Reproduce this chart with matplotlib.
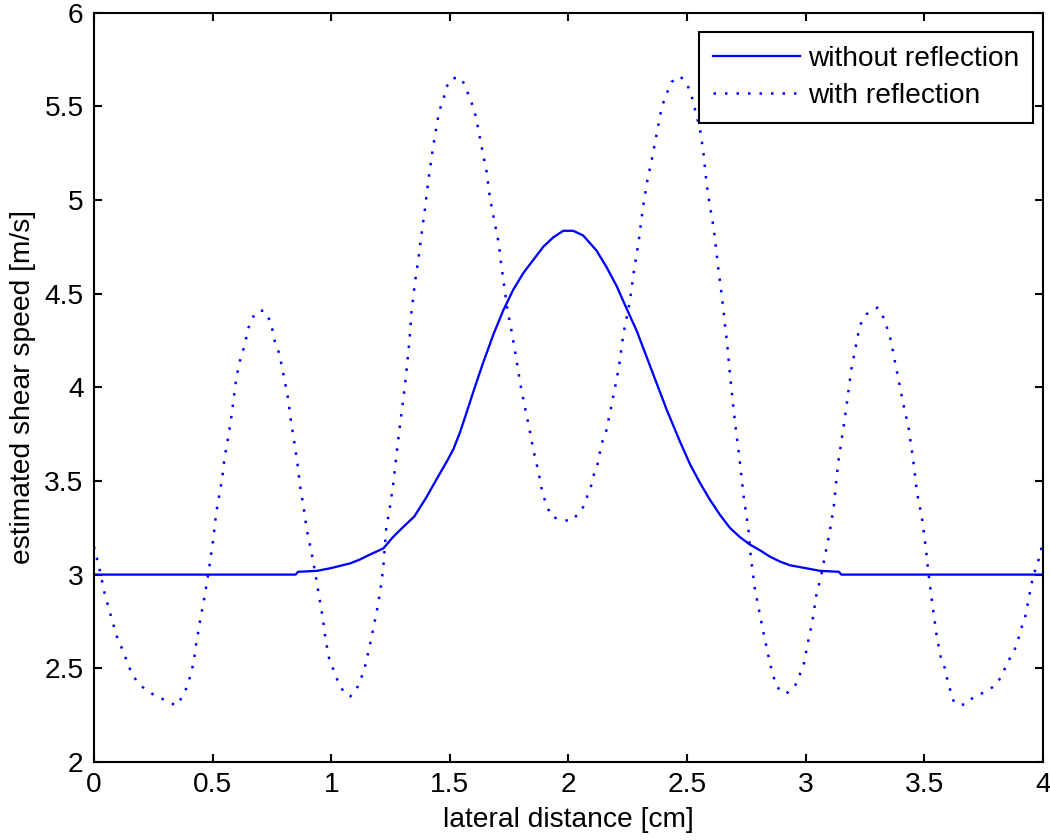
import matplotlib.pyplot as plt

plt.rcParams['font.family'] = ['Liberation Sans', 'DejaVu Sans']

# curva sem reflexao (linha continua)
dist_sem = [0.0, 0.85, 0.86, 0.94, 1.0, 1.08, 1.12, 1.16, 1.22, 1.26, 1.30, 1.35, 1.40, 1.44,
            1.49, 1.515, 1.543, 1.564, 1.60, 1.64, 1.683, 1.725, 1.767, 1.81, 1.852, 1.894,
            1.936, 1.978, 2.02, 2.062, 2.118, 2.161, 2.203, 2.245, 2.288, 2.33, 2.372, 2.414,
            2.47, 2.512, 2.554, 2.596, 2.638, 2.68, 2.723, 2.765, 2.807, 2.849, 2.891, 2.933,
            2.976, 3.018, 3.06, 3.14, 3.15, 4.0]
vel_sem = [3.0, 3.0, 3.015, 3.02, 3.035, 3.06, 3.08, 3.105, 3.14, 3.20, 3.25, 3.31, 3.41, 3.50,
           3.61, 3.67, 3.76, 3.84, 3.98, 4.13, 4.28, 4.41, 4.52, 4.61, 4.68, 4.75,
           4.80, 4.835, 4.835, 4.81, 4.73, 4.64, 4.54, 4.42, 4.30, 4.16, 4.02, 3.88,
           3.71, 3.59, 3.49, 3.40, 3.32, 3.25, 3.20, 3.16, 3.13, 3.096, 3.07, 3.05,
           3.04, 3.03, 3.02, 3.015, 3.0, 3.0]

# curva com reflexao (pontilhada)
dist_com = [0.0, 0.025, 0.045, 0.07, 0.097, 0.12, 0.152, 0.18, 0.218, 0.263, 0.31, 0.346,
            0.374, 0.395, 0.41, 0.42, 0.432, 0.448, 0.466, 0.485, 0.504, 0.515, 0.525, 0.541,
            0.55, 0.568, 0.58, 0.59, 0.60, 0.615, 0.634, 0.652, 0.68, 0.715, 0.745, 0.763,
            0.781, 0.80, 0.818, 0.83, 0.844, 0.858, 0.868, 0.884, 0.897, 0.916, 0.933, 0.948,
            0.964, 0.976, 0.993, 1.013, 1.031, 1.058, 1.08, 1.102, 1.121, 1.139, 1.16, 1.18,
            1.198, 1.212, 1.22, 1.232, 1.245, 1.262, 1.275, 1.29, 1.308, 1.318, 1.33, 1.338,
            1.354, 1.368, 1.382, 1.395, 1.409, 1.428, 1.447, 1.462, 1.474, 1.484, 1.51, 1.549,
            1.566, 1.585, 1.603, 1.618, 1.636, 1.655, 1.669, 1.687, 1.706, 1.714, 1.732, 1.742,
            1.76, 1.779, 1.798, 1.817, 1.835, 1.853, 1.873, 1.891, 1.909, 1.927, 1.964, 2.011,
            2.057, 2.075, 2.093, 2.103, 2.121, 2.14, 2.158, 2.176, 2.195, 2.213, 2.231, 2.259,
            2.277, 2.296, 2.314, 2.332, 2.352, 2.37, 2.388, 2.397, 2.415, 2.435, 2.471, 2.499,
            2.518, 2.554, 2.568, 2.582, 2.592, 2.612, 2.63, 2.648, 2.668, 2.686, 2.703, 2.72,
            2.738, 2.758, 2.768, 2.786, 2.804, 2.822, 2.842, 2.858, 2.878, 2.916, 2.953, 2.971,
            2.99, 3.008, 3.028, 3.046, 3.063, 3.081, 3.1, 3.118, 3.137, 3.155, 3.174, 3.192,
            3.21, 3.228, 3.256, 3.303, 3.331, 3.359, 3.377, 3.396, 3.414, 3.434, 3.451, 3.47,
            3.489, 3.507, 3.516, 3.534, 3.553, 3.571, 3.59, 3.598, 3.626, 3.672, 3.71, 3.756,
            3.801, 3.83, 3.848, 3.876, 3.894, 3.904, 3.923, 3.941, 3.959, 3.977, 3.987, 4.0]
vel_com = [3.15, 3.02, 2.90, 2.785, 2.667, 2.60, 2.495, 2.43, 2.385, 2.35, 2.325, 2.30,
           2.35, 2.41, 2.48, 2.53, 2.64, 2.76, 2.88, 3.03, 3.20, 3.33, 3.40, 3.52,
           3.62, 3.75, 3.85, 3.95, 4.05, 4.14, 4.22, 4.32, 4.40, 4.41, 4.35, 4.24,
           4.18, 4.06, 3.94, 3.82, 3.71, 3.59, 3.477, 3.357, 3.238, 3.124, 3.007, 2.89,
           2.772, 2.655, 2.54, 2.482, 2.42, 2.363, 2.35, 2.375, 2.432, 2.49, 2.607, 2.727,
           2.845, 2.96, 3.05, 3.25, 3.34, 3.49, 3.64, 3.80, 3.98, 4.10, 4.25, 4.40,
           4.57, 4.69, 4.83, 4.95, 5.10, 5.27, 5.42, 5.50, 5.54, 5.60, 5.65, 5.65,
           5.60, 5.54, 5.48, 5.39, 5.27, 5.15, 5.01, 4.89, 4.77, 4.68, 4.51, 4.42,
           4.30, 4.16, 4.01, 3.89, 3.78, 3.66, 3.55, 3.43, 3.37, 3.31, 3.295, 3.285,
           3.345, 3.405, 3.46, 3.52, 3.58, 3.70, 3.76, 3.87, 3.99, 4.11, 4.28, 4.46,
           4.63, 4.78, 4.96, 5.10, 5.22, 5.34, 5.46, 5.51, 5.57, 5.63, 5.66, 5.62,
           5.56, 5.38, 5.26, 5.09, 5.00, 4.85, 4.65, 4.47, 4.24, 4.00, 3.80, 3.63,
           3.42, 3.25, 3.10, 2.92, 2.806, 2.69, 2.57, 2.48, 2.40, 2.363, 2.40, 2.455,
           2.51, 2.63, 2.75, 2.90, 2.98, 3.10, 3.22, 3.36, 3.60, 3.75, 3.92, 4.095,
           4.21, 4.33, 4.39, 4.425, 4.365, 4.25, 4.13, 4.01, 3.895, 3.78, 3.63, 3.43,
           3.31, 3.135, 3.02, 2.84, 2.665, 2.548, 2.49, 2.43, 2.315, 2.304, 2.35, 2.373,
           2.41, 2.468, 2.527, 2.585, 2.643, 2.70, 2.76, 2.88, 2.996, 3.055, 3.11, 3.17]

fig = plt.figure(figsize=(7, 5.6), dpi=150)
ax = fig.add_axes([0.0895, 0.0929, 0.9038, 0.8922])

ax.plot(dist_sem, vel_sem, color='#0000ff', linewidth=1.1, label='without reflection')
ax.plot(dist_com, vel_com, color='#0000ff', linewidth=1.2, linestyle=(0, (1, 3.6)),
        dash_capstyle='butt', label='with reflection')

ax.set_xlim(0, 4)
ax.set_ylim(2, 6)
ax.set_xticks([0, 0.5, 1, 1.5, 2, 2.5, 3, 3.5, 4])
ax.set_xticklabels(['0', '0.5', '1', '1.5', '2', '2.5', '3', '3.5', '4'])
ax.set_yticks([2, 2.5, 3, 3.5, 4, 4.5, 5, 5.5, 6])
ax.set_yticklabels(['2', '2.5', '3', '3.5', '4', '4.5', '5', '5.5', '6'])
ax.tick_params(direction='in', length=4, width=1, top=True, right=True,
               labelsize=13.5, pad=5)
for sp in ax.spines.values():
    sp.set_linewidth(1)

ax.set_xlabel('lateral distance [cm]', fontsize=13.5, labelpad=4)
ax.set_ylabel('estimated shear speed [m/s]', fontsize=13.5, labelpad=4)

leg = ax.legend(loc='upper right', bbox_to_anchor=(0.9895, 0.974), borderaxespad=0,
                fontsize=13.5, fancybox=False, framealpha=1, edgecolor='black',
                handlelength=3.1, handletextpad=0.3, labelspacing=0.42, borderpad=0.48)
leg.get_frame().set_linewidth(1)

fig.savefig('out.png', dpi=150)
